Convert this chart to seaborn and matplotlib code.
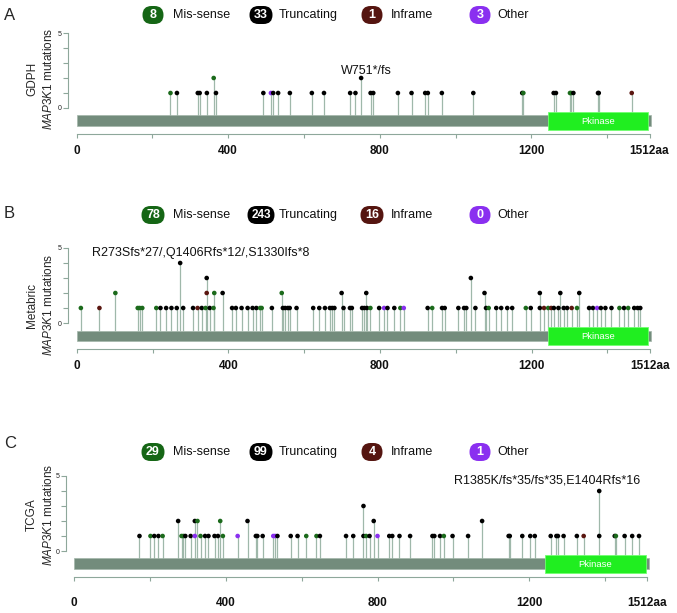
import matplotlib
matplotlib.use("Agg")
import matplotlib.pyplot as plt
from matplotlib.patches import Rectangle, FancyBboxPatch
import numpy as np
import pandas as pd
import seaborn as sns

# ---------------- data ----------------
type_names = ["Mis-sense", "Truncating", "Inframe", "Other"]

gdph_counts = [8, 33, 1, 3]
gdph_pos = [248, 265, 320, 325, 344, 362, 368, 493, 513, 519, 532, 563, 621, 653, 722, 736, 751,
            776, 783, 848, 884, 920, 927, 964, 1047, 1176, 1179, 1259, 1265, 1302, 1305, 1311,
            1376, 1378, 1465]
gdph_n = [1, 1, 1, 1, 1, 2, 1, 1, 1, 1, 1, 1, 1, 1, 1, 1, 2,
          1, 1, 1, 1, 1, 1, 1, 1, 1, 1, 1, 1, 1, 1, 1,
          1, 1, 1]
gdph_type = ["M", "T", "T", "T", "T", "M", "T", "T", "O", "T", "T", "T", "T", "T", "T", "T", "T",
             "T", "T", "T", "T", "T", "T", "T", "T", "T", "M", "T", "T", "M", "M", "T",
             "T", "T", "I"]

metabric_counts = [78, 243, 16, 0]
metabric_pos = [11, 60, 102, 161, 166, 173, 210, 221, 236, 250, 264, 273, 281, 307, 319, 330, 340,
                343, 343, 351, 361, 363, 385, 410, 420, 435, 451, 464, 474, 484, 488, 515, 541,
                544, 550, 557, 562, 580, 624, 640, 655, 668, 674, 680, 699, 704, 721, 726, 753,
                759, 764, 766, 775, 798, 811, 820, 838, 854, 863, 926, 938, 964, 971, 1007, 1022,
                1028, 1040, 1052, 1076, 1080, 1087, 1107, 1120, 1136, 1149, 1185, 1198, 1222, 1222,
                1233, 1244, 1252, 1259, 1271, 1276, 1285, 1294, 1306, 1320, 1326, 1352, 1362, 1373,
                1383, 1395, 1411, 1432, 1444, 1455, 1471, 1480, 1487]
metabric_n = [1, 1, 2, 1, 1, 1, 1, 1, 1, 1, 1, 4, 1, 1, 1, 1, 1,
              3, 2, 1, 1, 2, 2, 1, 1, 1, 1, 1, 1, 1, 1, 1, 2,
              1, 1, 1, 1, 1, 1, 1, 1, 1, 1, 1, 2, 1, 1, 1, 1,
              1, 2, 1, 1, 1, 1, 1, 1, 1, 1, 1, 1, 1, 1, 1, 1,
              1, 3, 1, 2, 1, 1, 1, 1, 1, 1, 1, 1, 2, 1,
              1, 1, 1, 1, 1, 2, 1, 1, 1, 1, 2, 1, 1, 1,
              1, 1, 1, 1, 1, 1, 1, 1, 1]
metabric_type = ["M", "I", "M", "M", "M", "M", "M", "T", "T", "T", "T", "T", "T", "T", "I", "T", "M",
                 "T", "I", "T", "M", "M", "T", "T", "T", "T", "T", "T", "T", "M", "M", "T", "M",
                 "T", "T", "T", "T", "T", "T", "T", "T", "T", "T", "T", "T", "T", "T", "T", "T",
                 "T", "T", "T", "M", "T", "O", "T", "T", "M", "O", "T", "M", "T", "T", "T", "T",
                 "T", "T", "T", "T", "T", "M", "T", "T", "T", "T", "M", "T", "T", "T",
                 "I", "M", "I", "T", "T", "T", "T", "T", "I", "M", "T", "T", "T", "O",
                 "T", "T", "T", "M", "T", "M", "T", "T", "T"]

tcga_counts = [29, 99, 4, 1]
tcga_pos = [172, 201, 211, 222, 233, 274, 283, 288, 293, 307, 318, 318, 325, 333, 345, 354, 370,
            379, 385, 392, 431, 457, 479, 483, 497, 525, 530, 536, 571, 589, 612, 639, 648,
            717, 736, 763, 763, 770, 779, 790, 800, 831, 839, 858, 886, 945, 950, 965, 975,
            998, 1039, 1076, 1146, 1149, 1182, 1203, 1215, 1257, 1272, 1276, 1291, 1326, 1344,
            1385, 1385, 1426, 1429, 1452, 1472, 1490]
tcga_n = [1, 1, 1, 1, 1, 2, 1, 1, 1, 1, 2, 1, 2, 1, 1, 1, 1,
          1, 2, 1, 1, 2, 1, 1, 1, 1, 1, 1, 1, 1, 1, 1, 1,
          1, 1, 3, 1, 1, 1, 2, 1, 1, 1, 1, 1, 1, 1, 1, 1,
          1, 1, 2, 1, 1, 1, 1, 1, 1, 1, 1, 1, 1, 1,
          4, 1, 1, 1, 1, 1, 1]
tcga_type = ["T", "M", "T", "T", "M", "T", "M", "M", "T", "T", "T", "O", "M", "M", "T", "T", "T",
             "T", "M", "M", "O", "T", "T", "T", "T", "O", "O", "T", "T", "T", "M", "M", "T",
             "T", "T", "T", "T", "M", "T", "T", "O", "T", "T", "T", "T", "T", "T", "T", "M",
             "T", "T", "T", "T", "T", "T", "T", "T", "T", "T", "T", "T", "T", "I",
             "T", "T", "T", "M", "T", "T", "T"]

protein_length = 1512
domain_name = "Pkinase"
domain_start, domain_end = 1243, 1508
x_tick_values = [0, 200, 400, 600, 800, 1000, 1200, 1400, 1512]
x_tick_labels = ["0", "", "400", "", "800", "", "1200", "", "1512aa"]

# ---------------- style ----------------
sns.set_theme(style="white")
plt.rcParams["font.family"] = ["Liberation Sans", "DejaVu Sans"]
plt.rcParams["mathtext.fontset"] = "custom"
plt.rcParams["mathtext.rm"] = "Liberation Sans"
plt.rcParams["mathtext.it"] = "Liberation Sans:italic"

palette = {"M": "#1b6a1b", "T": "#000000", "I": "#5a1610", "O": "#8a2ff0"}
legend_cols = ["#156615", "#000000", "#551510", "#8a2ff0"]
stem_color = "#9fb8aa"
bar_color = "#738c7c"
spine_color = "#8ea79b"

W, H = 677, 613
fig = plt.figure(figsize=(W / 100, H / 100), dpi=100)
PPA = 0.379   # pixels per amino acid
PPU = 15.0    # pixels per mutation count
YLO, YHI = -2.2, 5.5
RIGHT_PX = 665


def fx(px):
    return px / W


def fy(py):
    return 1 - py / H


panels = [
    dict(letter="A", cohort="GDPH", pos=gdph_pos, n=gdph_n, typ=gdph_type, counts=gdph_counts,
         y0=108, spine=68, aa0=76.5, leg_y=15, let_y=15, lab_y=79, xpad=4.5,
         ann="W751*/fs", ann_x=764, ann_y=2.5, ann_ha="center"),
    dict(letter="B", cohort="Metabric", pos=metabric_pos, n=metabric_n, typ=metabric_type,
         counts=metabric_counts, y0=323, spine=68, aa0=76.7, leg_y=215, let_y=213, lab_y=305,
         xpad=4.5, ann="R273Sfs*27/,Q1406Rfs*12/,S1330Ifs*8", ann_x=40, ann_y=4.67, ann_ha="left"),
    dict(letter="C", cohort="TCGA", pos=tcga_pos, n=tcga_n, typ=tcga_type, counts=tcga_counts,
         y0=551, spine=66, aa0=74.3, leg_y=452, let_y=444, lab_y=515, xpad=11,
         ann="R1385K/fs*35/fs*35,E1404Rfs*16", ann_x=1493, ann_y=4.67, ann_ha="right"),
]

pill_x = [153, 261, 372, 480]
label_x = [173, 279, 391, 497]

for p in panels:
    top_px = p["y0"] - YHI * PPU
    bot_px = p["y0"] - YLO * PPU
    ax = fig.add_axes([fx(p["spine"]), fy(bot_px), fx(RIGHT_PX) - fx(p["spine"]),
                       (bot_px - top_px) / H])
    xl = (p["spine"] - p["aa0"]) / PPA
    xr = xl + (RIGHT_PX - p["spine"]) / PPA
    ax.set_xlim(xl, xr)
    ax.set_ylim(YLO, YHI)
    ax.patch.set_alpha(0)

    df = pd.DataFrame({"pos": p["pos"], "count": p["n"], "type": p["typ"]})
    stems = df.groupby("pos")["count"].max()
    ax.vlines(stems.index, -0.5, stems.values, color=stem_color, lw=0.9, zorder=1)

    # protein bar and domain
    ax.add_patch(Rectangle((0, -1.23), protein_length + 4, 0.73, fc=bar_color,
                           ec="#a3b6aa", lw=0.5, zorder=2))
    ax.add_patch(Rectangle((domain_start, -1.48), domain_end - domain_start, 1.23,
                           fc="#20ee20", ec="#70ff70", lw=0.6, zorder=3))
    ax.text((domain_start + domain_end) / 2, -0.87, domain_name, color="white",
            fontsize=6.8, ha="center", va="center", zorder=4)

    sns.scatterplot(data=df, x="pos", y="count", hue="type", palette=palette,
                    hue_order=["M", "T", "I", "O"], s=11, linewidth=0, legend=False,
                    ax=ax, zorder=5)

    ax.text(p["ann_x"], p["ann_y"], p["ann"], ha=p["ann_ha"], va="center", fontsize=9,
            color="#111111")

    # spines
    for s in ["top", "right"]:
        ax.spines[s].set_visible(False)
    ax.spines["left"].set_bounds(0, 5)
    ax.spines["left"].set_color(spine_color)
    ax.spines["left"].set_linewidth(0.8)
    ax.spines["bottom"].set_position(("data", -1.75))
    ax.spines["bottom"].set_bounds(0, protein_length)
    ax.spines["bottom"].set_color(spine_color)
    ax.spines["bottom"].set_linewidth(0.8)

    ax.set_yticks([0, 1, 2, 3, 4, 5])
    ax.set_yticklabels(["0", "", "", "", "", "5"])
    ax.tick_params(axis="y", left=True, length=3.5, width=0.8, color=spine_color,
                   labelsize=5, pad=1, labelcolor="#222222")
    ax.set_xticks(x_tick_values)
    ax.set_xticklabels(x_tick_labels)
    ax.tick_params(axis="x", bottom=True, length=3, width=0.8, color=spine_color,
                   labelsize=8.5, pad=p["xpad"], labelcolor="#111111")
    for lab in ax.get_xticklabels():
        lab.set_fontweight("bold")
    ax.set_xlabel("")
    ax.set_ylabel("")

    # y label (two lines)
    fig.text(fx(32), fy(p["lab_y"]), p["cohort"], rotation=90, ha="center", va="center",
             fontsize=8.5)
    fig.text(fx(48), fy(p["lab_y"]), r"$\mathit{MAP3K1}$ mutations", rotation=90,
             ha="center", va="center", fontsize=8.5)

    # panel letter
    fig.text(fx(4), fy(p["let_y"]), p["letter"], ha="left", va="center", fontsize=12)

    # legend pills
    for i, (cnt, name) in enumerate(zip(p["counts"], type_names)):
        digits = len(str(cnt))
        w = {1: 21, 2: 23}.get(digits, 27)
        h = 18
        cx, cy = pill_x[i], p["leg_y"]
        patch = FancyBboxPatch(((cx - w / 2) / 100, (H - cy - h / 2) / 100), w / 100, h / 100,
                               boxstyle="round,pad=0,rounding_size=0.09",
                               transform=fig.dpi_scale_trans, fc=legend_cols[i], ec="none")
        fig.add_artist(patch)
        fig.text(fx(cx), fy(cy), str(cnt), color="white", fontsize=9 if digits < 3 else 8.5,
                 fontweight="bold", ha="center", va="center")
        fig.text(fx(label_x[i]), fy(cy), name, color="#111111", fontsize=9,
                 ha="left", va="center")

fig.savefig("out.png", dpi=100)
